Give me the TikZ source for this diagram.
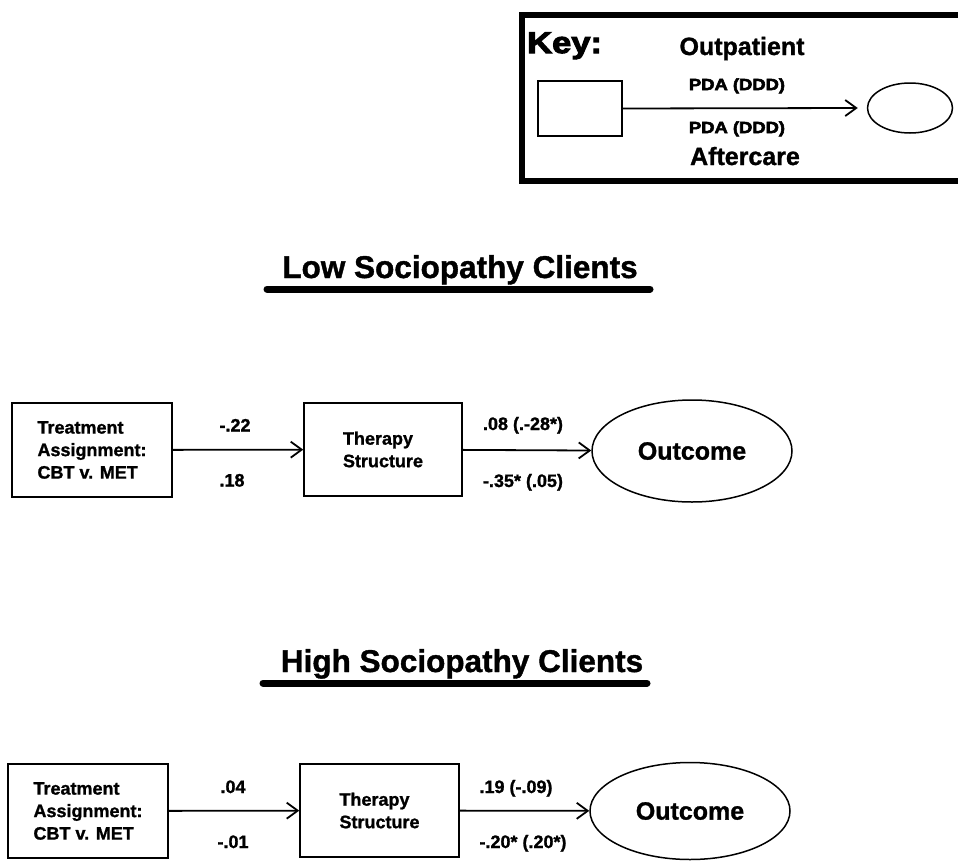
\documentclass[tikz,border=0pt]{standalone}
\usepackage{fontspec}
\setmainfont{Liberation Sans}[BoldFeatures={FakeBold=1.2}]
\newfontfamily\blackfont[FakeBold=3.5,FakeStretch=1.15]{Liberation Sans}
\usetikzlibrary{arrows.meta,shapes.geometric}
\begin{document}
\begin{tikzpicture}[x=1pt,y=-1pt,
  box/.style={draw,line width=1.5pt,minimum width=160pt,minimum height=94pt,inner sep=0pt,align=left,font=\bfseries\fontsize{18}{22.5}\selectfont},
  oval/.style={draw,ellipse,line width=1.5pt,inner sep=0pt,minimum width=200pt,font=\bfseries\fontsize{25}{30}\selectfont},
  lbl/.style={anchor=base,inner sep=0pt,font=\bfseries\fontsize{18}{22}\selectfont},
  arr/.style={line width=1.8pt,-{Straight Barb[length=11pt,width=16pt,line width=1.8pt]}},
  ttl/.style={anchor=base,inner sep=0pt,font=\bfseries\fontsize{31.5}{36}\selectfont},
  uline/.style={line width=7pt,line cap=round},
  keytxt/.style={anchor=base,inner sep=0pt,font=\bfseries\fontsize{25}{30}\selectfont},
  pda/.style={anchor=base,inner sep=0pt,font=\blackfont\bfseries\fontsize{16}{20}\selectfont},
]
\useasboundingbox (0,0) rectangle (958,862);
\begin{scope}
\clip (0,0) rectangle (958,862);
% Key frame
\draw[line width=6pt] (521.5,15) rectangle (975,181);
\end{scope}
\node[anchor=base west,inner sep=0pt,font=\blackfont\bfseries\fontsize{30}{34}\selectfont] (key) at (527,53) {Key:};
\node[keytxt] (outp) at (742,55) {Outpatient};
\node[pda] (pda1) at (737,90) {PDA (DDD)};
\node[pda] (pda2) at (737,133) {PDA (DDD)};
\node[keytxt] (aftc) at (745,165) {Aftercare};
\node[draw,line width=1.5pt,minimum width=84pt,minimum height=55pt,inner sep=0pt] (kbox) at (580,108.5) {};
\node[draw,ellipse,line width=1.5pt,minimum width=85pt,minimum height=50pt,inner sep=0pt] (koval) at (910,108) {};
\coordinate (kend) at ([xshift=-9pt]koval.west);
\draw[arr] (kbox.east) -- (kend);

% Low sociopathy
\node[ttl] (lowt) at (460,278) {Low Sociopathy Clients};
\draw[uline] (267,289) -- (650,289);
\node[box] (t1) at (92,450) {Treatment\\Assignment:\\CBT v. MET};
\node[box,minimum width=158pt,minimum height=93pt] (s1) at (383,449.5) {Therapy\\Structure};
\node[oval,minimum height=102pt] (o1) at (692,451) {Outcome};
\draw[arr] (t1) -- (s1);
\draw[arr] (s1) -- (o1);
\node[lbl] (a1) at (235,431.5) {-.22};
\node[lbl] (b1) at (232,486.5) {.18};
\node[lbl] (c1) at (523,430) {.08 (.-28*)};
\node[lbl] (d1) at (523,487) {-.35* (.05)};

% High sociopathy
\node[ttl] (hight) at (462,672) {High Sociopathy Clients};
\draw[uline] (263,683) -- (647,683);
\node[box] (t2) at (88,811) {Treatment\\Assignment:\\CBT v. MET};
\node[box,minimum width=159pt,minimum height=93pt] (s2) at (379.5,810.5) {Therapy\\Structure};
\node[oval,minimum height=97pt] (o2) at (690,811) {Outcome};
\draw[arr] (t2) -- (s2);
\draw[arr] (s2) -- (o2);
\node[lbl] (a2) at (233,793) {.04};
\node[lbl] (b2) at (233,848) {-.01};
\node[lbl] (c2) at (516,793) {.19 (-.09)};
\node[lbl] (d2) at (523,848) {-.20* (.20*)};
\end{tikzpicture}
\end{document}
